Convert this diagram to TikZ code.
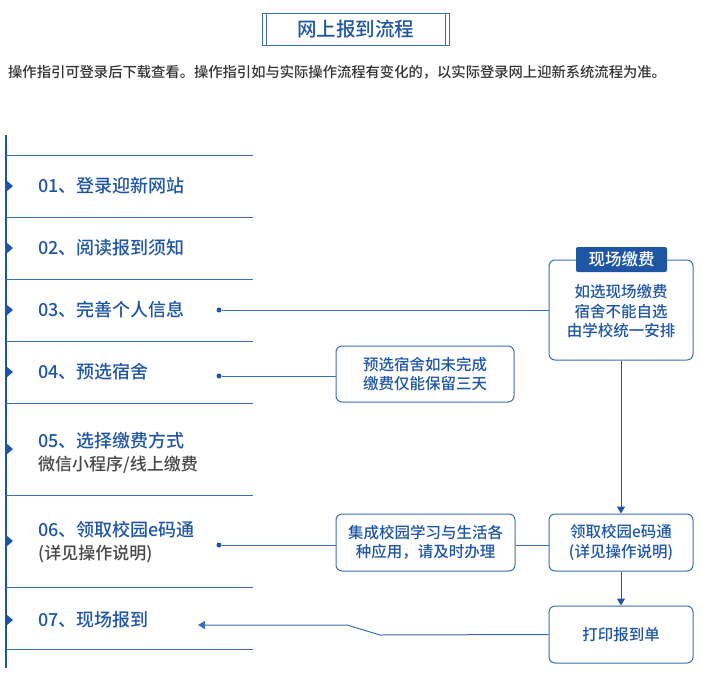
\documentclass[tikz,border=0pt]{standalone}
\usepackage{fontspec}
\setmainfont{Noto Sans CJK SC}[UprightFont=* Medium,BoldFont=* Bold]
\usetikzlibrary{arrows.meta}
\definecolor{bl}{HTML}{1F56A3}
\definecolor{ln}{HTML}{3A6DB3}
\definecolor{gr}{HTML}{333333}
\begin{document}
\begin{tikzpicture}[x=1pt,y=-1pt,
  line/.style={ln,line width=1pt},
  item/.style={anchor=west,text=bl,font=\fontsize{18}{22}\selectfont,inner sep=0},
  sub/.style={anchor=west,text=gr!90,font=\fontsize{17}{21}\selectfont,inner sep=0},
  tri/.style={fill=bl},
  box/.style={draw=ln,line width=1pt,rounded corners=6pt,align=center,text=bl,font=\fontsize{15.5}{19.5}\selectfont},
  dot/.style={circle,fill=bl,inner sep=0,minimum size=5pt}]
\useasboundingbox (0,0) rectangle (702,678);
% title
\draw[line] (262,13) rectangle (449,45);
\draw[line] (266,13) -- (266,45) (445,13) -- (445,45);
\node[text=bl,font=\fontsize{19.5}{22}\selectfont] (title) at (355.5,29) {网上报到流程};
\node[anchor=west,text=gr,font=\fontsize{14.3}{17}\selectfont,inner sep=0] (note) at (8,72) {操作指引可登录后下载查看。操作指引如与实际操作流程有变化的，以实际登录网上迎新系统流程为准。};
% left rail
\draw[bl,line width=1.5pt] (6,135) -- (6,668);
\foreach \y in {155,217,279,341,403,495,587,649} \draw[line] (6,\y) -- (253,\y);
\foreach \y in {186,248,310,372,449,541,620} \fill[tri] (6,\y-6) -- (13,\y) -- (6,\y+6) -- cycle;
\node[item] (s1) at (38,186) {01、登录迎新网站};
\node[item] (s2) at (38,248) {02、阅读报到须知};
\node[item] (s3) at (38,310) {03、完善个人信息};
\node[item] (s4) at (38,372) {04、预选宿舍};
\node[item] (s5) at (38,441) {05、选择缴费方式};
\node[sub] (s5b) at (38,465) {微信小程序/线上缴费};
\node[item] (s6) at (38,530) {06、领取校园e码通};
\node[sub] (s6b) at (38,554) {(详见操作说明)};
\node[item] (s7) at (38,620) {07、现场报到};
% dots
\node[dot] (d3) at (219,310) {};
\node[dot] (d4) at (219,376) {};
\node[dot] (d6) at (219,545) {};
% boxes
\node[box,minimum width=144pt,minimum height=100pt] (pay) at (621,310) {\\[-4pt]如选现场缴费\\宿舍不能自选\\由学校统一安排};
\node[fill=bl,text=white,rounded corners=2pt,minimum width=91pt,minimum height=25pt,font=\fontsize{16.5}{18}\selectfont] (tag) at (621.5,259.5) {现场缴费};
\node[box,minimum width=178pt,minimum height=56pt] (dorm) at (425,374) {预选宿舍如未完成\\缴费仅能保留三天};
\node[box,minimum width=179pt,minimum height=57pt] (app) at (425.5,542.5) {集成校园学习与生活各\\种应用，请及时办理};
\node[box,minimum width=144pt,minimum height=57pt] (ecode) at (621,542.5) {领取校园e码通\\(详见操作说明)};
\node[box,minimum width=144pt,minimum height=57pt] (print) at (621,634.5) {打印报到单};
% connectors
\draw[line] (d3) -- (d3 -| pay.west);
\draw[line] (d4) -- (d4 -| dorm.west);
\draw[line] (d6) -- (d6 -| app.west);
\draw[line] (app.east |- d6) -- (ecode.west |- d6);
\draw[line,-{Triangle[length=7pt,width=8pt]},bl] (pay.south) -- (ecode.north);
\draw[line,-{Triangle[length=7pt,width=8pt]},bl] (ecode.south) -- (print.north);
\coordinate (tip) at (198,625);
\draw[line,-{Triangle[length=7pt,width=8pt]}] (print.west) -- (380,635) -- (347,625) -- (tip);
\end{tikzpicture}
\end{document}
